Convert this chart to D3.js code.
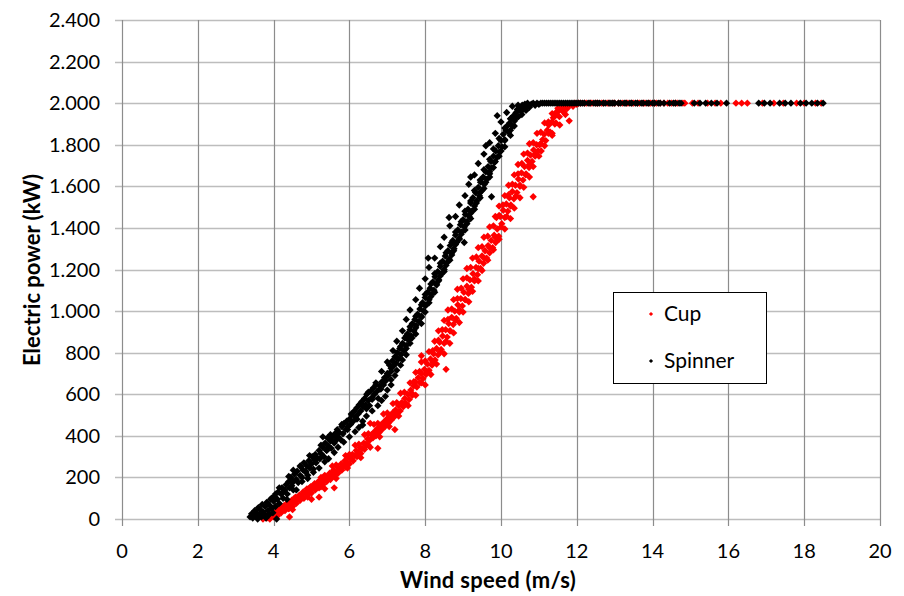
<!DOCTYPE html>
<html>
<head>
<meta charset="utf-8">
<script src="https://cdn.jsdelivr.net/npm/d3@7"></script>
<style>
  body { margin: 0; background: #fff; }
  text { font-family: Lato, "Open Sans", sans-serif; fill: #000; }
</style>
</head>
<body>
<script>
// wind speed (m/s), electric power (kW)
var cupPoints = [
    [3.72,0],[3.78,10],[3.82,5],[3.86,20],[3.9,0],[3.94,15],[3.98,30],[4.0,10],[4.04,25],[4.08,40],[4.1,15],[4.14,35],
    [4.18,55],[4.2,30],[4.24,45],[4.28,65],[4.3,40],[4.34,60],[4.38,80],[4.4,50],[4.44,70],[4.48,90],[4.5,60],[4.42,10],
    [4.54,85],[4.58,105],[4.6,75],[4.64,95],[4.68,115],[4.7,90],[4.74,110],[4.78,130],[4.8,100],[4.84,125],[4.88,145],
    [4.9,115],[4.94,135],[4.98,155],[5.0,125],[5.04,150],[5.08,170],[5.1,140],[5.14,160],[5.18,180],[5.2,150],[5.24,175],
    [5.28,195],[5.3,165],[5.34,185],[5.38,205],[5.4,180],[5.44,200],[5.48,220],[5.5,190],[5.2,105],[5.6,150],
    [5.54,215],[5.58,235],[5.6,205],[5.64,225],[5.68,250],[5.7,220],[5.74,240],[5.78,265],[5.8,235],[5.84,255],[5.88,280],
    [5.9,250],[5.94,270],[5.98,295],[6.0,265],[6.04,290],[6.08,310],[6.1,280],[6.14,305],[6.18,330],[6.2,300],[6.24,320],
    [6.28,345],[6.3,315],[6.34,340],[6.38,365],[6.4,335],[6.44,360],[6.48,385],[6.5,355],[6.75,340],[6.55,460],[7.2,430],
    [6.54,380],[6.58,405],[6.62,390],[6.66,420],[6.7,400],[6.74,435],[6.78,415],[6.82,450],[6.86,430],[6.9,465],[6.94,445],
    [6.98,480],[7.02,460],[7.06,495],[7.1,475],[7.14,510],[7.18,490],[7.22,525],[7.26,505],[7.3,545],[7.34,520],[7.38,560],
    [7.42,540],[7.46,580],[7.5,555],[7.54,600],[7.58,575],[7.62,620],[7.66,595],[7.7,640],[8.55,720],[7.9,785],
    [7.74,660],[7.78,635],[7.82,680],[7.86,655],[7.9,700],[7.94,675],[7.98,720],[8.02,695],[8.06,745],[8.1,715],[8.14,770],
    [8.18,740],[8.22,795],[8.26,765],[8.3,820],[8.34,790],[8.38,850],[8.42,815],[8.46,880],[8.5,845],[8.54,910],[8.58,875],
    [8.62,940],[8.66,905],[8.7,970],[8.74,935],[8.78,1000],[8.82,965],[8.86,1030],[8.9,995],
    [8.94,1060],[8.98,1025],[9.02,1090],[9.06,1055],[9.1,1120],[9.14,1085],[9.18,1150],[9.22,1115],[9.26,1180],[9.3,1145],
    [9.34,1210],[9.38,1175],[9.42,1240],[9.46,1205],[9.5,1265],[9.54,1230],[9.58,1290],[9.62,1255],[9.66,1315],[9.7,1280],
    [9.74,1340],[9.78,1305],[9.82,1365],[9.86,1330],[9.9,1395],[9.94,1360],[10.85,1550],[9.88,1450],
    [9.98,1455],[10.02,1420],[10.06,1485],[10.1,1450],[10.14,1515],[10.18,1480],[10.22,1545],[10.26,1510],[10.3,1575],
    [10.34,1540],[10.38,1605],[10.42,1570],[10.46,1635],[10.5,1600],[10.54,1665],[10.58,1630],[10.62,1695],[10.66,1660],
    [10.7,1725],[10.74,1690],[10.78,1750],[10.82,1720],[10.86,1775],[10.9,1745],[10.94,1800],[10.98,1770],
    [11.02,1800],[11.06,1770],[11.1,1825],[11.14,1850],[11.18,1820],[11.22,1870],[11.26,1895],[11.3,1860],[11.34,1910],
    [11.38,1930],[11.42,1900],[11.46,1945],[11.5,1960],[11.54,1935],[11.58,1970],[11.62,1980],[11.66,1955],[11.7,1985],
    [11.75,1975],[11.8,1990],[11.85,1995],[11.9,1985],[11.95,2000],[12.0,1995],[11.35,1855],[11.8,1915],
    // wider scatter around the band
    [3.75,25],[4.1,20],[4.1,55],[4.5,45],[4.55,100],[5.0,95],[4.95,150],[5.35,145],[5.25,200],[5.65,195],[5.55,255],
    [5.95,245],[5.9,305],[6.3,295],[6.15,355],[6.55,345],[6.4,405],[6.8,395],[6.65,455],[7.05,445],[6.9,505],[7.3,495],
    [7.15,555],[7.55,545],[7.35,605],[7.75,595],[7.6,655],[8.0,645],[7.75,705],[8.15,695],[7.9,755],[8.3,745],[8.1,805],
    [8.5,795],[8.25,855],[8.65,845],[8.35,905],[8.75,895],[8.5,955],[8.9,945],[8.6,1005],[9.0,995],[8.75,1055],[9.15,1045],
    [8.85,1105],[9.25,1095],[9.0,1155],[9.4,1145],[9.1,1205],[9.5,1195],[9.25,1255],[9.65,1245],[9.4,1305],[9.8,1295],
    [9.55,1355],[9.95,1345],[9.7,1405],[10.1,1395],[9.85,1455],[10.25,1445],[9.95,1505],[10.35,1495],[10.1,1555],
    [10.5,1545],[10.2,1605],[10.6,1595],[10.35,1655],[10.75,1645],[10.45,1705],[10.85,1695],[10.6,1755],[11.0,1745],
    [10.75,1805],[11.15,1795],[10.95,1855],[11.35,1845],[11.15,1905],[11.55,1895],[11.35,1950],[11.7,1945],[11.5,1975],
    [11.9,1990],
    [4.2,60],[4.4,50],[4.7,110],[4.9,105],[5.05,160],[5.25,155],[5.35,210],[5.55,205],[5.65,260],[5.85,255],[6.0,310],
    [6.2,305],[6.25,360],[6.45,355],[6.5,410],[6.7,405],[6.75,460],[6.95,455],[7.0,510],[7.2,505],[7.25,560],[7.45,555],
    [7.45,610],[7.65,605],[7.7,660],[7.9,655],[7.85,710],[8.05,705],[8.0,760],[8.2,755],[8.2,810],[8.4,805],[8.35,860],
    [8.55,855],[8.45,910],[8.65,905],[8.6,960],[8.8,955],[8.7,1010],[8.9,1005],[8.85,1060],[9.05,1055],[8.95,1110],
    [9.15,1105],[9.1,1160],[9.3,1155],[9.2,1210],[9.4,1205],[9.35,1260],[9.55,1255],[9.5,1310],[9.7,1305],[9.65,1360],
    [9.85,1355],[9.8,1410],[10.0,1405],[9.95,1460],[10.15,1455],[10.05,1510],[10.25,1505],[10.2,1560],[10.4,1555],
    [10.3,1610],[10.5,1605],[10.45,1660],[10.65,1655],[10.55,1710],[10.75,1705],[10.7,1760],[10.9,1755],[10.85,1810],
    [11.05,1805],[11.05,1860],[11.25,1855],[11.25,1910],[11.45,1905],[11.45,1955],[11.65,1960],
    // rated power plateau
    [12.05,2000],[12.1,2000],[12.2,2000],[12.25,2000],[12.35,2000],[12.4,2000],[12.5,2000],[12.55,2000],[12.65,2000],
    [12.7,2000],[12.8,2000],[12.85,2000],[12.95,2000],[13.0,2000],[13.1,2000],[13.2,2000],[13.3,2000],[13.35,2000],
    [13.45,2000],[13.5,2000],[13.6,2000],[13.65,2000],[13.75,2000],[13.8,2000],[13.9,2000],[13.95,2000],[14.05,2000],
    [14.1,2000],[14.2,2000],[14.3,2000],[14.4,2000],[14.5,2000],[14.6,2000],[14.65,2000],[14.8,2000],[14.85,2000],
    [15.05,2000],[15.2,2000],[15.45,2000],[15.65,2000],[15.8,2000],[16.2,2000],[16.35,2000],[16.5,2000],[16.9,2000],
    [17.2,2000],[17.45,2000],[17.8,2000],[18.0,2000],[18.3,2000],[18.45,2000]
];

var spinnerPoints = [
    [3.38,10],[3.42,25],[3.45,5],[3.5,40],[3.52,15],[3.55,30],[3.58,0],[3.6,55],[3.62,20],[3.65,45],[3.68,10],[3.7,70],
    [3.72,35],[3.75,25],[3.78,60],[3.8,5],[3.82,80],[3.85,40],[3.88,20],[3.9,65],[3.92,95],[3.95,50],[3.98,30],[4.0,85],
    [4.02,110],[4.05,60],[4.08,0],[4.1,95],[4.12,130],[4.15,75],
    [4.2,120],[4.22,150],[4.25,100],[4.3,140],[4.33,165],[4.36,120],[4.4,180],[4.42,150],[4.45,200],[4.48,160],[4.5,185],
    [4.52,140],[4.55,215],[4.6,190],[4.62,230],[4.65,175],[4.7,210],[4.72,250],[4.75,200],[4.78,235],[4.8,270],[4.85,225],
    [4.88,255],[4.9,210],[4.93,280],[4.96,245],[5.0,265],[5.02,300],[5.05,240],[5.08,285],[5.3,395],[4.52,235],
    [5.1,310],[5.12,270],[5.15,295],[5.2,330],[5.22,290],[5.25,315],[5.3,345],[5.33,300],[5.36,365],[5.4,330],[5.42,390],
    [5.45,350],[5.5,375],[5.52,340],[5.55,395],[5.6,365],[5.62,410],[5.65,380],[5.68,430],[5.7,395],[5.74,415],[5.78,380],
    [5.8,445],[5.83,410],[5.86,460],[5.9,430],[5.93,470],[5.96,445],[6.0,480],[6.03,455],[6.35,452],
    [6.06,500],[6.1,470],[6.13,520],[6.16,490],[6.2,535],[6.23,505],[6.26,550],[6.3,520],[6.33,565],[6.36,540],[6.4,580],
    [6.43,550],[6.46,600],[6.5,570],[6.53,545],[6.56,615],[6.6,585],[6.63,630],[6.66,600],[6.7,645],[6.73,615],[6.76,580],
    [6.8,640],[6.83,625],[6.86,660],[6.9,645],[6.93,680],[6.96,665],[7.0,700],[7.03,690],
    [7.06,740],[7.1,710],[7.13,760],[7.16,735],[7.2,780],[7.23,750],[7.26,800],[7.3,770],[7.33,820],[7.36,790],[7.4,845],
    [7.43,810],[7.46,870],[7.5,835],[7.53,890],[7.56,860],[7.6,910],[7.63,880],[7.66,940],[7.7,905],[7.73,960],[7.76,930],
    [7.8,985],[7.83,950],[7.86,1010],[7.9,975],[7.93,1040],[7.96,1000],[8.0,1065],[8.03,1030],
    [8.06,1090],[8.1,1055],[8.13,1110],[8.16,1080],[8.2,1140],[8.23,1100],[8.26,1165],[8.3,1130],[8.33,1190],[8.36,1150],
    [8.4,1215],[8.43,1180],[8.46,1240],[8.5,1200],[8.53,1265],[8.56,1230],[8.6,1290],[8.63,1250],[8.66,1315],[8.7,1280],
    [8.73,1340],[8.76,1300],[8.8,1365],[8.83,1330],[8.86,1390],[8.9,1350],[8.93,1415],[8.96,1380],[9.0,1440],[9.03,1405],
    [8.63,1450],[8.08,1255],[9.2,1645],[9.03,1330],[9.75,1550],[9.9,1940],[9.6,1795],
    [9.06,1465],[9.1,1430],[9.13,1490],[9.16,1455],[9.2,1520],[9.23,1480],[9.26,1545],[9.3,1505],[9.33,1570],[9.36,1530],
    [9.4,1595],[9.43,1555],[9.46,1620],[9.5,1580],[9.53,1645],[9.56,1610],[9.6,1670],[9.63,1635],[9.66,1695],[9.7,1660],
    [9.73,1720],[9.76,1690],[9.8,1745],[9.83,1715],[9.86,1770],[9.9,1740],[9.93,1795],[9.96,1765],[10.0,1820],[10.03,1790],
    [10.06,1850],[10.1,1820],[10.13,1870],[10.16,1890],[10.2,1860],[10.23,1905],[10.26,1925],[10.3,1890],[10.33,1940],
    [10.36,1915],[10.4,1955],[10.43,1970],[10.46,1935],[10.5,1980],[10.53,1960],[10.56,1990],[10.6,1975],[10.63,1995],
    [10.66,1965],[10.7,1990],[10.75,1980],[10.8,1995],[10.85,2000],[10.9,1990],[10.95,2000],[11.0,1995],
    // wider scatter around the band
    [3.95,100],[4.35,95],[4.15,150],[4.6,140],[4.4,205],[4.9,195],[4.7,255],[5.2,245],[4.95,305],[5.45,290],[5.25,355],
    [5.7,345],[5.5,405],[6.0,395],[5.8,455],[6.25,440],[6.05,505],[6.45,495],[6.3,555],[6.75,545],[6.5,610],[6.95,590],
    [6.7,655],[7.1,645],[6.85,710],[7.2,690],[7.0,755],[7.35,740],[7.15,810],[7.5,790],[7.25,855],[7.6,845],[7.4,905],
    [7.75,890],[7.5,960],[7.9,940],[7.6,1005],[8.0,995],[7.75,1055],[8.1,1040],[7.85,1110],[8.25,1090],[8.0,1155],
    [8.35,1145],[8.1,1210],[8.5,1190],[8.25,1255],[8.65,1245],[8.4,1310],[8.75,1290],[8.5,1355],[8.9,1345],[8.65,1410],
    [9.05,1390],[8.8,1455],[9.2,1445],[8.9,1510],[9.3,1490],[9.05,1555],[9.45,1545],[9.15,1610],[9.55,1590],[9.3,1655],
    [9.7,1645],[9.4,1710],[9.8,1690],[9.55,1755],[9.95,1745],[9.7,1810],[10.1,1790],[9.85,1855],[10.25,1845],[10.0,1910],
    [10.35,1890],[10.15,1955],[10.55,1945],[10.3,1985],[10.45,1990],[10.7,2000],[10.6,1985],
    [4.05,120],[4.25,130],[4.5,175],[4.75,180],[4.85,230],[5.05,225],[5.1,280],[5.35,275],[5.4,330],[5.6,320],[5.65,380],
    [5.85,370],[5.95,430],[6.15,420],[6.2,480],[6.35,470],[6.45,530],[6.6,520],[6.6,575],[6.85,570],[6.8,625],[7.0,620],
    [6.95,680],[7.1,670],[7.1,725],[7.25,715],[7.25,775],[7.4,765],[7.35,830],[7.5,820],[7.5,880],[7.65,870],[7.6,925],
    [7.75,920],[7.75,975],[7.9,970],[7.9,1030],[8.0,1025],[8.0,1080],[8.15,1070],[8.15,1130],[8.3,1125],[8.25,1180],
    [8.4,1170],[8.4,1230],[8.55,1220],[8.55,1280],[8.7,1270],[8.7,1330],[8.8,1320],[8.8,1380],[8.95,1370],[8.95,1430],
    [9.1,1420],[9.05,1480],[9.2,1470],[9.2,1530],[9.35,1520],[9.3,1580],[9.45,1570],[9.45,1630],[9.6,1620],[9.55,1680],
    [9.7,1670],[9.7,1730],[9.85,1720],[9.8,1780],[10.0,1770],[9.95,1830],[10.1,1825],[10.1,1880],[10.25,1870],
    [10.25,1925],[10.4,1930],
    // rated power plateau
    [11.05,2000],[11.1,2000],[11.15,2000],[11.2,2000],[11.25,2000],[11.3,2000],[11.35,2000],[11.4,2000],[11.45,2000],
    [11.5,2000],[11.55,2000],[11.6,2000],[11.65,2000],[11.7,2000],[11.75,2000],[11.8,2000],[11.85,2000],[11.9,2000],
    [11.95,2000],[12.0,2000],[12.05,2000],[12.1,2000],[12.15,2000],[12.2,2000],[12.3,2000],[12.35,2000],[12.45,2000],
    [12.5,2000],[12.55,2000],[12.6,2000],[12.7,2000],[12.75,2000],[12.85,2000],[12.9,2000],[12.95,2000],[13.0,2000],
    [13.1,2000],[13.15,2000],[13.25,2000],[13.3,2000],[13.4,2000],[13.45,2000],[13.55,2000],[13.6,2000],[13.7,2000],
    [13.75,2000],[13.85,2000],[13.9,2000],[14.0,2000],[14.05,2000],[14.15,2000],[14.2,2000],[14.3,2000],[14.45,2000],
    [14.55,2000],[14.6,2000],[14.7,2000],[14.75,2000],[15.1,2000],[15.25,2000],[15.4,2000],[15.55,2000],[15.7,2000],
    [15.95,2000],[16.8,2000],[16.95,2000],[17.1,2000],[17.35,2000],[17.5,2000],[17.65,2000],[17.9,2000],[18.05,2000],
    [18.2,2000],[18.35,2000],[18.5,2000]
];

var seriesNames = ["Cup", "Spinner"];
var seriesColors = ["#ff0000", "#000000"];
var xTicks = [0, 2, 4, 6, 8, 10, 12, 14, 16, 18, 20];
var yTicks = [0, 200, 400, 600, 800, 1000, 1200, 1400, 1600, 1800, 2000, 2200, 2400];

var width = 904, height = 596;
var plotLeft = 122, plotRight = 880, plotTop = 20, plotBottom = 519;

var svg = d3.select("body").append("svg")
    .attr("width", width)
    .attr("height", height);

var x = d3.scaleLinear().domain([0, 20]).range([plotLeft, plotRight]);
var y = d3.scaleLinear().domain([0, 2400]).range([plotBottom, plotTop]);

// thousands with a dot, like the original
var fmt = d3.formatLocale({ decimal: ",", thousands: ".", grouping: [3], currency: ["", ""] }).format(",d");

// horizontal grid (lighter) - runs out to the tick length on the left
svg.append("g")
    .selectAll("line")
    .data(yTicks)
    .enter().append("line")
    .attr("x1", plotLeft - 7)
    .attr("x2", plotRight)
    .attr("y1", function (d) { return Math.round(y(d)) + 0.5; })
    .attr("y2", function (d) { return Math.round(y(d)) + 0.5; })
    .attr("stroke", "#bdbdbd")
    .attr("stroke-width", 1.5);

// vertical grid (darker), ticks below axis
svg.append("g")
    .selectAll("line")
    .data(xTicks)
    .enter().append("line")
    .attr("x1", function (d) { return Math.round(x(d)) + 0.5; })
    .attr("x2", function (d) { return Math.round(x(d)) + 0.5; })
    .attr("y1", plotTop)
    .attr("y2", plotBottom + 7)
    .attr("stroke", "#8c8c8c")
    .attr("stroke-width", 1.2);

// y tick labels
svg.append("g")
    .selectAll("text")
    .data(yTicks)
    .enter().append("text")
    .attr("x", 100)
    .attr("y", function (d) { return y(d); })
    .attr("dy", "0.35em")
    .attr("text-anchor", "end")
    .style("font-size", "20px")
    .text(function (d) { return fmt(d); });

// x tick labels
svg.append("g")
    .selectAll("text")
    .data(xTicks)
    .enter().append("text")
    .attr("x", function (d) { return x(d); })
    .attr("y", 558)
    .attr("text-anchor", "middle")
    .style("font-size", "20px")
    .text(function (d) { return d; });

// axis titles
svg.append("text")
    .attr("x", 488)
    .attr("y", 588)
    .attr("text-anchor", "middle")
    .style("font-size", "22px")
    .style("font-weight", "bold")
    .style("letter-spacing", "0.3px")
    .text("Wind speed (m/s)");

svg.append("text")
    .attr("transform", "translate(40,270) rotate(-90)")
    .attr("text-anchor", "middle")
    .style("font-size", "22px")
    .style("font-weight", "bold")
    .text("Electric power (kW)");

// markers: small diamonds, Cup drawn first so Spinner sits on top
var diamond = d3.symbol().type(d3.symbolSquare).size(27);

var allSeries = [cupPoints, spinnerPoints];
allSeries.forEach(function (pts, j) {
    svg.append("g")
        .attr("class", "series" + j)
        .selectAll("path")
        .data(pts)
        .enter().append("path")
        .attr("d", diamond)
        .attr("transform", function (d) {
            return "translate(" + x(d[0]) + "," + y(d[1]) + ") rotate(45)";
        })
        .attr("fill", seriesColors[j]);
});

// legend
var legend = svg.append("g").attr("transform", "translate(613,292)");
legend.append("rect")
    .attr("x", 0.5).attr("y", 0.5)
    .attr("width", 153).attr("height", 91)
    .attr("fill", "#fff")
    .attr("stroke", "#000")
    .attr("stroke-width", 1);

var item = legend.selectAll("g.item")
    .data(seriesNames)
    .enter().append("g")
    .attr("class", "item")
    .attr("transform", function (d, i) { return "translate(0," + (22 + i * 47) + ")"; });

item.append("path")
    .attr("d", d3.symbol().type(d3.symbolSquare).size(9))
    .attr("transform", "translate(38,0) rotate(45)")
    .attr("fill", function (d, i) { return seriesColors[i]; });

item.append("text")
    .attr("x", 51)
    .attr("dy", "0.35em")
    .style("font-size", "21px")
    .text(function (d) { return d; });
</script>
</body>
</html>
